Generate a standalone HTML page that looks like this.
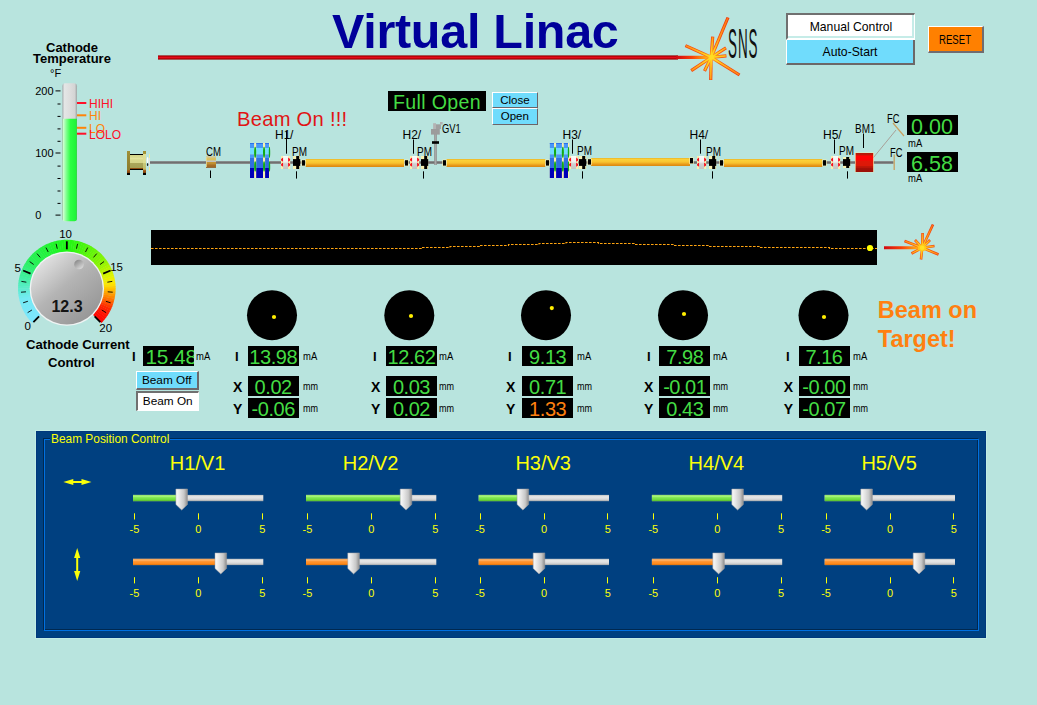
<!DOCTYPE html>
<html><head><meta charset="utf-8"><title>Virtual Linac</title>
<style>
*{box-sizing:border-box;margin:0;padding:0}
html,body{width:1037px;height:705px;overflow:hidden;background:#b8e4de;font-family:"Liberation Sans",sans-serif;color:#000}
.a{position:absolute}
.t{position:absolute;white-space:nowrap;line-height:1}
.b{font-weight:bold}
.disp{position:absolute;background:#000;color:#44dc44;overflow:hidden;white-space:nowrap;line-height:1;text-align:center;letter-spacing:-0.45px}
.btn{position:absolute;text-align:center;white-space:nowrap;font-size:13px;line-height:1}
.raised{border-style:solid;border-width:1px 2px 2px 1px;border-color:#fff #6c686c #6c686c #fff}
.sunken{border-style:solid;border-width:2px 1px 1px 2px;border-color:#707070 #fff #fff #707070}
.lbl{position:absolute;white-space:nowrap;line-height:1;font-size:12px}
svg{position:absolute;left:0;top:0;overflow:visible}
</style></head>
<body>
<div class="t b" style="left:332px;top:7px;font-size:48.5px;color:#00009a;letter-spacing:-0.28px">Virtual Linac</div>
<div class="a" style="left:158px;top:55.2px;width:520px;height:4.4px;background:linear-gradient(rgba(110,30,40,0.4),#b00000 24%,#e40a1c 50%,#b00000 76%,rgba(110,30,40,0.4))"></div>
<div class="btn" style="left:786px;top:13px;width:129px;height:27px;background:#fff;border-style:solid;border-width:2px 1px 2px 2px;border-color:#707070 #fff #fff #707070;box-shadow:inset -2px -2px 0 #c6ece8;padding-top:6.4px;font-size:12.2px">Manual Control</div>
<div class="btn" style="left:786px;top:40px;width:129px;height:24.7px;background:#70dcfc;border-style:solid;border-width:0 2px 2px 1px;border-color:#fff #6c6868 #6c6868 #fff;padding-top:5.5px;font-size:12.2px">Auto-Start</div>
<div class="btn" style="left:928px;top:26px;width:56px;height:26.8px;background:#ff8000;border-style:solid;border-width:1px 2px 2px 1px;border-color:#fff #706c70 #706c70 #fff;padding-top:6.7px;font-size:12px"><span style="display:inline-block;transform:scaleX(0.8)">RESET</span></div>
<svg width="1037" height="705"><defs><radialGradient id="g1" gradientUnits="userSpaceOnUse" cx="711.2" cy="57.3" r="43.2005"><stop offset="0" stop-color="#ffe020"/><stop offset="0.2" stop-color="#ffcc1c"/><stop offset="0.5" stop-color="#ff9c18"/><stop offset="1" stop-color="#ff7414"/></radialGradient><radialGradient id="g1o" gradientUnits="userSpaceOnUse" cx="711.2" cy="57.3" r="43.2005"><stop offset="0" stop-color="#ffb020"/><stop offset="0.25" stop-color="#f85010"/><stop offset="1" stop-color="#f03008"/></radialGradient><linearGradient id="g1b" gradientUnits="userSpaceOnUse" x1="676" y1="0" x2="711.2" y2="0"><stop offset="0" stop-color="#d00810"/><stop offset="0.45" stop-color="#f84008"/><stop offset="0.8" stop-color="#ff9c14"/><stop offset="1" stop-color="#ffd020"/></linearGradient></defs><line x1="676" y1="57.3" x2="711.2" y2="57.3" stroke="url(#g1b)" stroke-width="3.2"/><line x1="711.2" y1="57.3" x2="728" y2="17.5" stroke="url(#g1o)" stroke-width="3.2"/><line x1="711.2" y1="57.3" x2="685.4" y2="45.6" stroke="url(#g1o)" stroke-width="3.2"/><line x1="711.2" y1="57.3" x2="712.7" y2="36.6" stroke="url(#g1o)" stroke-width="3.2"/><line x1="711.2" y1="57.3" x2="726" y2="47.8" stroke="url(#g1o)" stroke-width="3.2"/><line x1="711.2" y1="57.3" x2="726.4" y2="55.8" stroke="url(#g1o)" stroke-width="3.2"/><line x1="711.2" y1="57.3" x2="739.5" y2="75" stroke="url(#g1o)" stroke-width="3.2"/><line x1="711.2" y1="57.3" x2="710.7" y2="80" stroke="url(#g1o)" stroke-width="3.2"/><line x1="711.2" y1="57.3" x2="704.5" y2="71" stroke="url(#g1o)" stroke-width="3.2"/><line x1="711.2" y1="57.3" x2="691.2" y2="70.6" stroke="url(#g1o)" stroke-width="3.2"/><line x1="711.2" y1="57.3" x2="727.767" y2="18.0528" stroke="url(#g1)" stroke-width="1.6"/><line x1="711.2" y1="57.3" x2="685.946" y2="45.8478" stroke="url(#g1)" stroke-width="1.6"/><line x1="711.2" y1="57.3" x2="712.657" y2="37.1984" stroke="url(#g1)" stroke-width="1.6"/><line x1="711.2" y1="57.3" x2="725.495" y2="48.1241" stroke="url(#g1)" stroke-width="1.6"/><line x1="711.2" y1="57.3" x2="725.803" y2="55.8589" stroke="url(#g1)" stroke-width="1.6"/><line x1="711.2" y1="57.3" x2="738.991" y2="74.6818" stroke="url(#g1)" stroke-width="1.6"/><line x1="711.2" y1="57.3" x2="710.713" y2="79.4001" stroke="url(#g1)" stroke-width="1.6"/><line x1="711.2" y1="57.3" x2="704.764" y2="70.461" stroke="url(#g1)" stroke-width="1.6"/><line x1="711.2" y1="57.3" x2="691.7" y2="70.2678" stroke="url(#g1)" stroke-width="1.6"/><circle cx="711.2" cy="57.3" r="2.56" fill="#ffdc24"/></svg>
<div class="t" style="left:728.3px;top:22px;font-size:42.6px;transform-origin:0 0;transform:scaleX(0.315);letter-spacing:3px;color:#101010">SNS</div>
<div class="t b" style="left:22px;top:41.6px;width:100px;text-align:center;font-size:13px;line-height:11px;white-space:normal">Cathode Temperature</div>
<div class="t" style="left:50px;top:68px;font-size:11px">&deg;F</div>
<svg width="1037" height="705"><defs><linearGradient id="tg" x1="0" x2="1" y1="0" y2="0"><stop offset="0" stop-color="#a8aeb0"/><stop offset="0.15" stop-color="#e4e6e6"/><stop offset="0.5" stop-color="#dedede"/><stop offset="0.85" stop-color="#d4d4d4"/><stop offset="1" stop-color="#9ca4a4"/></linearGradient><linearGradient id="tf" x1="0" x2="1" y1="0" y2="0"><stop offset="0" stop-color="#98c8a0"/><stop offset="0.07" stop-color="#ccffd0"/><stop offset="0.3" stop-color="#78ff88"/><stop offset="0.55" stop-color="#2cff44"/><stop offset="0.9" stop-color="#20f43a"/><stop offset="1" stop-color="#40cc50"/></linearGradient></defs><rect x="62.3" y="83.3" width="14.7" height="138" rx="3" fill="url(#tg)"/><path d="M62.3 118.7 H77 V218.6 a2.6 2.6 0 0 1 -2.6 2.6 H64.9 a2.6 2.6 0 0 1 -2.6 -2.6 Z" fill="url(#tf)"/><line x1="55.5" x2="60.5" y1="215.1" y2="215.1" stroke="#000" stroke-width="1"/><line x1="57.5" x2="60.5" y1="203.4" y2="203.4" stroke="#000" stroke-width="1"/><line x1="57.5" x2="60.5" y1="191.0" y2="191.0" stroke="#000" stroke-width="1"/><line x1="57.5" x2="60.5" y1="178.5" y2="178.5" stroke="#000" stroke-width="1"/><line x1="57.5" x2="60.5" y1="166.1" y2="166.1" stroke="#000" stroke-width="1"/><line x1="55.5" x2="60.5" y1="153.0" y2="153.0" stroke="#000" stroke-width="1"/><line x1="57.5" x2="60.5" y1="141.3" y2="141.3" stroke="#000" stroke-width="1"/><line x1="57.5" x2="60.5" y1="128.9" y2="128.9" stroke="#000" stroke-width="1"/><line x1="57.5" x2="60.5" y1="116.4" y2="116.4" stroke="#000" stroke-width="1"/><line x1="57.5" x2="60.5" y1="104.0" y2="104.0" stroke="#000" stroke-width="1"/><line x1="55.5" x2="60.5" y1="90.9" y2="90.9" stroke="#000" stroke-width="1"/><line x1="77" x2="86.3" y1="103" y2="103" stroke="#ff1028" stroke-width="2"/><line x1="77" x2="86.3" y1="115.3" y2="115.3" stroke="#ff8408" stroke-width="2"/><line x1="77" x2="86.3" y1="127.8" y2="127.8" stroke="#ff8408" stroke-width="2"/><line x1="77" x2="86.3" y1="133.7" y2="133.7" stroke="#ff1028" stroke-width="2"/></svg>
<div class="t" style="left:35.2px;top:85.6px;font-size:11px">200</div>
<div class="t" style="left:35.2px;top:148.0px;font-size:11px">100</div>
<div class="t" style="left:35.2px;top:209.8px;font-size:11px">0</div>
<div class="t" style="left:89px;top:98.2px;font-size:12px;color:#ff1028">HIHI</div>
<div class="t" style="left:89px;top:110.2px;font-size:12px;color:#ff8408">HI</div>
<div class="t" style="left:89px;top:122.7px;font-size:12px;color:#ff8408">LO</div>
<div class="t" style="left:89px;top:128.7px;font-size:12px;color:#ff1028">LOLO</div>
<svg width="1037" height="705"><defs><linearGradient id="kg" x1="0.15" y1="0.1" x2="0.85" y2="0.9"><stop offset="0" stop-color="#e2e2e2"/><stop offset="0.45" stop-color="#b4b4b4"/><stop offset="1" stop-color="#969696"/></linearGradient><linearGradient id="kd" x1="0.2" y1="0.1" x2="0.8" y2="0.9"><stop offset="0" stop-color="#8c8c8c"/><stop offset="1" stop-color="#d8d8d8"/></linearGradient></defs><polygon points="32.34,323.11 30.33,320.97 39.53,312.81 41.04,314.41" fill="rgb(124,230,254)"/><polygon points="30.58,321.25 28.69,319.01 38.30,311.35 39.73,313.02" fill="rgb(123,231,253)"/><polygon points="28.93,319.31 27.15,316.97 37.15,309.82 38.48,311.57" fill="rgb(122,231,252)"/><polygon points="27.37,317.28 25.72,314.86 36.08,308.24 37.32,310.05" fill="rgb(121,231,251)"/><polygon points="25.92,315.18 24.40,312.67 35.10,306.60 36.24,308.48" fill="rgb(121,232,250)"/><polygon points="24.59,313.00 23.20,310.41 34.20,304.91 35.24,306.85" fill="rgb(120,232,249)"/><polygon points="23.37,310.75 22.11,308.10 33.39,303.18 34.33,305.17" fill="rgb(119,232,248)"/><polygon points="22.27,308.45 21.16,305.73 32.67,301.41 33.51,303.45" fill="rgb(118,233,247)"/><polygon points="21.29,306.09 20.32,303.32 32.05,299.61 32.77,301.68" fill="rgb(118,233,246)"/><polygon points="20.44,303.68 19.62,300.86 31.52,297.77 32.14,299.88" fill="rgb(117,234,245)"/><polygon points="19.71,301.23 19.04,298.37 31.09,295.91 31.59,298.05" fill="rgb(116,234,244)"/><polygon points="19.12,298.75 18.59,295.86 30.76,294.03 31.15,296.19" fill="rgb(112,234,237)"/><polygon points="18.65,296.23 18.28,293.32 30.52,292.13 30.80,294.31" fill="rgb(106,235,228)"/><polygon points="18.32,293.70 18.10,290.77 30.39,290.22 30.55,292.42" fill="rgb(100,236,219)"/><polygon points="18.12,291.15 18.05,288.22 30.35,288.31 30.40,290.51" fill="rgb(95,236,209)"/><polygon points="18.05,288.60 18.14,285.66 30.42,286.40 30.35,288.60" fill="rgb(89,237,200)"/><polygon points="18.12,286.05 18.36,283.12 30.58,284.50 30.40,286.69" fill="rgb(83,238,191)"/><polygon points="18.32,283.50 18.71,280.59 30.85,282.61 30.55,284.78" fill="rgb(77,238,181)"/><polygon points="18.65,280.97 19.20,278.08 31.21,280.73 30.80,282.89" fill="rgb(72,239,172)"/><polygon points="19.12,278.45 19.81,275.60 31.67,278.88 31.15,281.01" fill="rgb(66,240,163)"/><polygon points="19.71,275.97 20.56,273.16 32.23,277.05 31.59,279.15" fill="rgb(62,240,153)"/><polygon points="20.44,273.52 21.43,270.75 32.88,275.25 32.14,277.32" fill="rgb(58,240,143)"/><polygon points="21.29,271.11 22.43,268.40 33.62,273.49 32.77,275.52" fill="rgb(55,240,134)"/><polygon points="22.27,268.75 23.54,266.10 34.46,271.77 33.51,273.75" fill="rgb(52,240,124)"/><polygon points="23.37,266.45 24.78,263.87 35.38,270.10 34.33,272.03" fill="rgb(48,240,114)"/><polygon points="24.59,264.20 26.13,261.70 36.40,268.48 35.24,270.35" fill="rgb(45,240,105)"/><polygon points="25.92,262.02 27.60,259.61 37.49,266.91 36.24,268.72" fill="rgb(42,240,95)"/><polygon points="27.37,259.92 29.17,257.59 38.67,265.41 37.32,267.15" fill="rgb(40,240,88)"/><polygon points="28.93,257.89 30.84,255.66 39.92,263.96 38.48,265.63" fill="rgb(39,240,84)"/><polygon points="30.58,255.95 32.62,253.82 41.24,262.59 39.73,264.18" fill="rgb(39,241,80)"/><polygon points="32.34,254.09 34.48,252.08 42.64,261.28 41.04,262.79" fill="rgb(38,241,76)"/><polygon points="34.20,252.33 36.44,250.44 44.10,260.05 42.43,261.48" fill="rgb(38,242,72)"/><polygon points="36.14,250.68 38.48,248.90 45.63,258.90 43.88,260.23" fill="rgb(37,242,69)"/><polygon points="38.17,249.12 40.59,247.47 47.21,257.83 45.40,259.07" fill="rgb(36,242,65)"/><polygon points="40.27,247.67 42.78,246.15 48.85,256.85 46.97,257.99" fill="rgb(36,242,61)"/><polygon points="42.45,246.34 45.04,244.95 50.54,255.95 48.60,256.99" fill="rgb(35,243,57)"/><polygon points="44.70,245.12 47.35,243.86 52.27,255.14 50.28,256.08" fill="rgb(35,243,53)"/><polygon points="47.00,244.02 49.72,242.91 54.04,254.42 52.00,255.26" fill="rgb(34,244,49)"/><polygon points="49.36,243.04 52.13,242.07 55.84,253.80 53.77,254.52" fill="rgb(34,244,45)"/><polygon points="51.77,242.19 54.59,241.37 57.68,253.27 55.57,253.89" fill="rgb(33,244,41)"/><polygon points="54.22,241.46 57.08,240.79 59.54,252.84 57.40,253.34" fill="rgb(32,244,37)"/><polygon points="56.70,240.87 59.59,240.34 61.42,252.51 59.26,252.90" fill="rgb(32,245,34)"/><polygon points="59.22,240.40 62.13,240.03 63.32,252.27 61.14,252.55" fill="rgb(31,245,30)"/><polygon points="61.75,240.07 64.68,239.85 65.23,252.14 63.03,252.30" fill="rgb(31,246,26)"/><polygon points="64.30,239.87 67.23,239.80 67.14,252.10 64.94,252.15" fill="rgb(30,246,22)"/><polygon points="66.85,239.80 69.79,239.89 69.05,252.17 66.85,252.10" fill="rgb(33,246,20)"/><polygon points="69.40,239.87 72.33,240.11 70.95,252.33 68.76,252.15" fill="rgb(39,246,19)"/><polygon points="71.95,240.07 74.86,240.46 72.84,252.60 70.67,252.30" fill="rgb(45,246,18)"/><polygon points="74.48,240.40 77.37,240.95 74.72,252.96 72.56,252.55" fill="rgb(51,246,17)"/><polygon points="77.00,240.87 79.85,241.56 76.57,253.42 74.44,252.90" fill="rgb(58,246,16)"/><polygon points="79.48,241.46 82.29,242.31 78.40,253.98 76.30,253.34" fill="rgb(64,245,15)"/><polygon points="81.93,242.19 84.70,243.18 80.20,254.63 78.13,253.89" fill="rgb(70,245,14)"/><polygon points="84.34,243.04 87.05,244.18 81.96,255.37 79.93,254.52" fill="rgb(76,245,13)"/><polygon points="86.70,244.02 89.35,245.29 83.68,256.21 81.70,255.26" fill="rgb(82,245,12)"/><polygon points="89.00,245.12 91.58,246.53 85.35,257.13 83.42,256.08" fill="rgb(88,245,12)"/><polygon points="91.25,246.34 93.75,247.88 86.97,258.15 85.10,256.99" fill="rgb(94,245,11)"/><polygon points="93.43,247.67 95.84,249.35 88.54,259.24 86.73,257.99" fill="rgb(100,245,10)"/><polygon points="95.53,249.12 97.86,250.92 90.04,260.42 88.30,259.07" fill="rgb(106,245,9)"/><polygon points="97.56,250.68 99.79,252.59 91.49,261.67 89.82,260.23" fill="rgb(113,244,8)"/><polygon points="99.50,252.33 101.63,254.37 92.86,262.99 91.27,261.48" fill="rgb(119,244,7)"/><polygon points="101.36,254.09 103.37,256.23 94.17,264.39 92.66,262.79" fill="rgb(125,244,6)"/><polygon points="103.12,255.95 105.01,258.19 95.40,265.85 93.97,264.18" fill="rgb(131,244,5)"/><polygon points="104.77,257.89 106.55,260.23 96.55,267.38 95.22,265.63" fill="rgb(137,244,4)"/><polygon points="106.33,259.92 107.98,262.34 97.62,268.96 96.38,267.15" fill="rgb(146,244,4)"/><polygon points="107.78,262.02 109.30,264.53 98.60,270.60 97.46,268.72" fill="rgb(159,244,3)"/><polygon points="109.11,264.20 110.50,266.79 99.50,272.29 98.46,270.35" fill="rgb(172,244,2)"/><polygon points="110.33,266.45 111.59,269.10 100.31,274.02 99.37,272.03" fill="rgb(184,244,2)"/><polygon points="111.43,268.75 112.54,271.47 101.03,275.79 100.19,273.75" fill="rgb(197,244,1)"/><polygon points="112.41,271.11 113.38,273.88 101.65,277.59 100.93,275.52" fill="rgb(210,244,1)"/><polygon points="113.26,273.52 114.08,276.34 102.18,279.43 101.56,277.32" fill="rgb(222,243,0)"/><polygon points="113.99,275.97 114.66,278.83 102.61,281.29 102.11,279.15" fill="rgb(232,240,0)"/><polygon points="114.58,278.45 115.11,281.34 102.94,283.17 102.55,281.01" fill="rgb(241,237,0)"/><polygon points="115.05,280.97 115.42,283.88 103.18,285.07 102.90,282.89" fill="rgb(251,233,0)"/><polygon points="115.38,283.50 115.60,286.43 103.31,286.98 103.15,284.78" fill="rgb(255,222,0)"/><polygon points="115.58,286.05 115.65,288.98 103.35,288.89 103.30,286.69" fill="rgb(255,205,0)"/><polygon points="115.65,288.60 115.56,291.54 103.28,290.80 103.35,288.60" fill="rgb(255,188,0)"/><polygon points="115.58,291.15 115.34,294.08 103.12,292.70 103.30,290.51" fill="rgb(255,171,0)"/><polygon points="115.38,293.70 114.99,296.61 102.85,294.59 103.15,292.42" fill="rgb(255,154,0)"/><polygon points="115.05,296.23 114.50,299.12 102.49,296.47 102.90,294.31" fill="rgb(255,136,0)"/><polygon points="114.58,298.75 113.89,301.60 102.03,298.32 102.55,296.19" fill="rgb(255,117,0)"/><polygon points="113.99,301.23 113.14,304.04 101.47,300.15 102.11,298.05" fill="rgb(255,98,0)"/><polygon points="113.26,303.68 112.27,306.45 100.82,301.95 101.56,299.88" fill="rgb(255,78,0)"/><polygon points="112.41,306.09 111.27,308.80 100.08,303.71 100.93,301.68" fill="rgb(255,59,0)"/><polygon points="111.43,308.45 110.16,311.10 99.24,305.43 100.19,303.45" fill="rgb(255,40,0)"/><polygon points="110.33,310.75 108.92,313.33 98.32,307.10 99.37,305.17" fill="rgb(255,31,0)"/><polygon points="109.11,313.00 107.57,315.50 97.30,308.72 98.46,306.85" fill="rgb(255,26,0)"/><polygon points="107.78,315.18 106.10,317.59 96.21,310.29 97.46,308.48" fill="rgb(255,20,0)"/><polygon points="106.33,317.28 104.53,319.61 95.03,311.79 96.38,310.05" fill="rgb(255,14,0)"/><polygon points="104.77,319.31 102.86,321.54 93.78,313.24 95.22,311.57" fill="rgb(255,9,0)"/><polygon points="103.12,321.25 101.36,323.11 92.66,314.41 93.97,313.02" fill="rgb(255,3,0)"/><line x1="39.06" y1="316.39" x2="33.40" y2="322.05" stroke="#000" stroke-width="1.8"/><line x1="31.89" y1="310.02" x2="27.63" y2="312.63" stroke="#000" stroke-width="0.9"/><line x1="27.86" y1="301.27" x2="23.10" y2="302.81" stroke="#000" stroke-width="0.9"/><line x1="25.98" y1="291.82" x2="20.99" y2="292.21" stroke="#000" stroke-width="0.9"/><line x1="26.35" y1="282.19" x2="21.42" y2="281.40" stroke="#000" stroke-width="0.9"/><line x1="30.54" y1="273.56" x2="23.15" y2="270.50" stroke="#000" stroke-width="1.8"/><line x1="33.68" y1="264.50" x2="29.64" y2="261.56" stroke="#000" stroke-width="0.9"/><line x1="40.22" y1="257.42" x2="36.98" y2="253.62" stroke="#000" stroke-width="0.9"/><line x1="48.24" y1="252.07" x2="45.97" y2="247.61" stroke="#000" stroke-width="0.9"/><line x1="57.28" y1="248.73" x2="56.11" y2="243.87" stroke="#000" stroke-width="0.9"/><line x1="66.85" y1="249.30" x2="66.85" y2="241.30" stroke="#000" stroke-width="1.8"/><line x1="76.42" y1="248.73" x2="77.59" y2="243.87" stroke="#000" stroke-width="0.9"/><line x1="85.46" y1="252.07" x2="87.73" y2="247.61" stroke="#000" stroke-width="0.9"/><line x1="93.48" y1="257.42" x2="96.72" y2="253.62" stroke="#000" stroke-width="0.9"/><line x1="100.02" y1="264.50" x2="104.06" y2="261.56" stroke="#000" stroke-width="0.9"/><line x1="103.16" y1="273.56" x2="110.55" y2="270.50" stroke="#000" stroke-width="1.8"/><line x1="107.35" y1="282.19" x2="112.28" y2="281.40" stroke="#000" stroke-width="0.9"/><line x1="107.72" y1="291.82" x2="112.71" y2="292.21" stroke="#000" stroke-width="0.9"/><line x1="105.84" y1="301.27" x2="110.60" y2="302.81" stroke="#000" stroke-width="0.9"/><line x1="101.81" y1="310.02" x2="106.07" y2="312.63" stroke="#000" stroke-width="0.9"/><line x1="94.64" y1="316.39" x2="100.30" y2="322.05" stroke="#000" stroke-width="1.8"/><circle cx="66.85" cy="288.6" r="37.2" fill="#f0f4f4"/><circle cx="66.85" cy="288.6" r="35.9" fill="url(#kg)"/><circle cx="79" cy="264.5" r="4.8" fill="url(#kd)"/></svg>
<div class="t b" style="left:37px;width:60px;text-align:center;top:298.5px;font-size:16px;color:#141414">12.3</div>
<div class="t" style="left:50.6px;width:30px;text-align:center;top:228.5px;font-size:11.5px">10</div>
<div class="t" style="left:2.7px;width:30px;text-align:center;top:262.5px;font-size:11.5px">5</div>
<div class="t" style="left:101.6px;width:30px;text-align:center;top:261.9px;font-size:11.5px">15</div>
<div class="t" style="left:12.7px;width:30px;text-align:center;top:321.3px;font-size:11.5px">0</div>
<div class="t" style="left:90.7px;width:30px;text-align:center;top:322.9px;font-size:11.5px">20</div>
<div class="t b" style="left:26px;top:338px;font-size:13.15px">Cathode Current</div>
<div class="t b" style="left:48px;top:356px;font-size:13.1px">Control</div>
<svg width="1037" height="705"><defs><linearGradient id="pg" x1="0" x2="0" y1="0" y2="1"><stop offset="0" stop-color="#e8b428"/><stop offset="0.18" stop-color="#fcd038"/><stop offset="0.5" stop-color="#f8c430"/><stop offset="0.8" stop-color="#e89818"/><stop offset="1" stop-color="#d88810"/></linearGradient><linearGradient id="lg" x1="0" x2="0" y1="0" y2="1"><stop offset="0" stop-color="#a0a8a8"/><stop offset="0.35" stop-color="#6c6c6c"/><stop offset="0.7" stop-color="#747474"/><stop offset="1" stop-color="#9ca4a4"/></linearGradient><linearGradient id="cg" x1="0" x2="0" y1="0" y2="1"><stop offset="0" stop-color="#fafafa"/><stop offset="0.45" stop-color="#f0f0f0"/><stop offset="0.6" stop-color="#d0d0d0"/><stop offset="1" stop-color="#c4c4c4"/></linearGradient><linearGradient id="gung" x1="0" x2="0" y1="0" y2="1"><stop offset="0" stop-color="#000"/><stop offset="0.07" stop-color="#000"/><stop offset="0.08" stop-color="#d4d488"/><stop offset="0.22" stop-color="#dcdc94"/><stop offset="0.3" stop-color="#e6e6a0"/><stop offset="0.36" stop-color="#d8d88c"/><stop offset="0.55" stop-color="#d4d488"/><stop offset="0.57" stop-color="#aaa65a"/><stop offset="0.86" stop-color="#a4a054"/><stop offset="0.88" stop-color="#a05818"/><stop offset="0.93" stop-color="#804008"/><stop offset="0.94" stop-color="#000"/><stop offset="1" stop-color="#000"/></linearGradient><linearGradient id="gfl" x1="0" x2="0" y1="0" y2="1"><stop offset="0" stop-color="#a09038"/><stop offset="0.78" stop-color="#8c7c2c"/><stop offset="0.8" stop-color="#a86020"/><stop offset="0.9" stop-color="#804008"/><stop offset="0.92" stop-color="#000"/><stop offset="1" stop-color="#000"/></linearGradient><linearGradient id="gfr" x1="0" x2="0" y1="0" y2="1"><stop offset="0" stop-color="#a08c30"/><stop offset="0.11" stop-color="#a89838"/><stop offset="0.13" stop-color="#e0e098"/><stop offset="0.5" stop-color="#dcdc90"/><stop offset="0.52" stop-color="#c8c878"/><stop offset="0.76" stop-color="#c0bc68"/><stop offset="0.8" stop-color="#a86020"/><stop offset="0.9" stop-color="#804008"/><stop offset="0.92" stop-color="#000"/><stop offset="1" stop-color="#000"/></linearGradient><linearGradient id="cmg" x1="0" x2="0" y1="0" y2="1"><stop offset="0" stop-color="#d4c898"/><stop offset="0.14" stop-color="#d4c488"/><stop offset="0.16" stop-color="#dcc464"/><stop offset="0.36" stop-color="#d8be5c"/><stop offset="0.38" stop-color="#c6c6c2"/><stop offset="0.5" stop-color="#c0c0bc"/><stop offset="0.52" stop-color="#c49434"/><stop offset="0.7" stop-color="#bc8c30"/><stop offset="0.73" stop-color="#a87028"/><stop offset="0.92" stop-color="#a06824"/><stop offset="0.94" stop-color="#885018"/><stop offset="1" stop-color="#885018"/></linearGradient><linearGradient id="bmg" x1="0" x2="0" y1="0" y2="1"><stop offset="0" stop-color="#b41808"/><stop offset="0.12" stop-color="#c01808"/><stop offset="0.14" stop-color="#ff0404"/><stop offset="0.38" stop-color="#fc0404"/><stop offset="0.41" stop-color="#e01808"/><stop offset="0.67" stop-color="#dc1808"/><stop offset="0.7" stop-color="#c01808"/><stop offset="0.79" stop-color="#b81408"/><stop offset="0.82" stop-color="#a01008"/><stop offset="1" stop-color="#9c1008"/></linearGradient></defs><rect x="150" y="161" width="156" height="3" fill="url(#lg)"/><rect x="404" y="161" width="42" height="3" fill="url(#lg)"/><rect x="545" y="161" width="47" height="3" fill="url(#lg)"/><rect x="690" y="161" width="34" height="3" fill="url(#lg)"/><rect x="822" y="161" width="34" height="3" fill="url(#lg)"/><rect x="873" y="161" width="20.5" height="3" fill="url(#lg)"/><rect x="149" y="154" width="1" height="17" fill="#f0ec98"/><rect x="149" y="158" width="1" height="9" fill="#e4e4e0"/><ellipse cx="147.6" cy="160.3" rx="0.9" ry="3.4" fill="#fcfcfc"/><ellipse cx="147.6" cy="164.6" rx="0.7" ry="1.5" fill="#202020"/><rect x="130" y="154" width="13" height="16" fill="url(#gung)"/><rect x="127" y="151" width="3" height="24" fill="url(#gfl)"/><rect x="143" y="151" width="3" height="24" fill="url(#gfr)"/><rect x="206" y="156.2" width="10" height="11.6" fill="url(#cmg)"/><rect x="206" y="157" width="0.8" height="10" fill="#e8d890"/><line x1="210.5" x2="210.5" y1="170.5" y2="178" stroke="#000" stroke-width="1"/><rect x="250" y="143" width="19.7" height="35" fill="#f8f0b0"/><rect x="250" y="143" width="4.1" height="5" fill="#4898f8"/><rect x="250" y="148" width="4.1" height="6.3" fill="#70dcff"/><rect x="250" y="154.3" width="4.1" height="3.7" fill="#4898f8"/><rect x="250" y="158" width="4.1" height="10" fill="#3070e0"/><rect x="250" y="168" width="4.1" height="10" fill="#0000b8"/><rect x="256.2" y="143" width="6.8" height="5" fill="#4898f8"/><rect x="256.2" y="148" width="6.8" height="6.3" fill="#70dcff"/><rect x="256.2" y="154.3" width="6.8" height="3.7" fill="#4898f8"/><rect x="256.2" y="158" width="6.8" height="10" fill="#3070e0"/><rect x="256.2" y="168" width="6.8" height="10" fill="#0000b8"/><rect x="265.1" y="143" width="3.9" height="5" fill="#4898f8"/><rect x="265.1" y="148" width="3.9" height="6.3" fill="#70dcff"/><rect x="265.1" y="154.3" width="3.9" height="3.7" fill="#4898f8"/><rect x="265.1" y="158" width="3.9" height="10" fill="#3070e0"/><rect x="265.1" y="168" width="3.9" height="10" fill="#0000b8"/><rect x="250" y="143" width="4.1" height="0.9" fill="#2c6ce8"/><rect x="256.2" y="143" width="6.8" height="0.9" fill="#2c6ce8"/><rect x="265.1" y="143" width="3.9" height="0.9" fill="#2c6ce8"/><ellipse cx="255.15" cy="152.3" rx="1.05" ry="5.6" fill="#10a818"/><ellipse cx="255.15" cy="166.5" rx="1.05" ry="5.2" fill="#10a818"/><ellipse cx="264.05" cy="152.3" rx="1.05" ry="5.6" fill="#10a818"/><ellipse cx="264.05" cy="166.5" rx="1.05" ry="5.2" fill="#10a818"/><ellipse cx="269.5" cy="152.3" rx="0.7" ry="5.6" fill="#10a818"/><ellipse cx="269.5" cy="166.5" rx="0.7" ry="5.2" fill="#10a818"/><rect x="549.8" y="143" width="19.4" height="35" fill="#f8f0b0"/><rect x="549.8" y="143" width="4.2" height="5" fill="#4898f8"/><rect x="549.8" y="148" width="4.2" height="6.3" fill="#70dcff"/><rect x="549.8" y="154.3" width="4.2" height="3.7" fill="#4898f8"/><rect x="549.8" y="158" width="4.2" height="10" fill="#3070e0"/><rect x="549.8" y="168" width="4.2" height="10" fill="#0000b8"/><rect x="556.1" y="143" width="5.8" height="5" fill="#4898f8"/><rect x="556.1" y="148" width="5.8" height="6.3" fill="#70dcff"/><rect x="556.1" y="154.3" width="5.8" height="3.7" fill="#4898f8"/><rect x="556.1" y="158" width="5.8" height="10" fill="#3070e0"/><rect x="556.1" y="168" width="5.8" height="10" fill="#0000b8"/><rect x="563.8" y="143" width="4.2" height="5" fill="#4898f8"/><rect x="563.8" y="148" width="4.2" height="6.3" fill="#70dcff"/><rect x="563.8" y="154.3" width="4.2" height="3.7" fill="#4898f8"/><rect x="563.8" y="158" width="4.2" height="10" fill="#3070e0"/><rect x="563.8" y="168" width="4.2" height="10" fill="#0000b8"/><rect x="549.8" y="143" width="4.2" height="0.9" fill="#2c6ce8"/><rect x="556.1" y="143" width="5.8" height="0.9" fill="#2c6ce8"/><rect x="563.8" y="143" width="4.2" height="0.9" fill="#2c6ce8"/><ellipse cx="555.05" cy="152.3" rx="1.05" ry="5.6" fill="#10a818"/><ellipse cx="555.05" cy="166.5" rx="1.05" ry="5.2" fill="#10a818"/><ellipse cx="562.85" cy="152.3" rx="1.05" ry="5.6" fill="#10a818"/><ellipse cx="562.85" cy="166.5" rx="1.05" ry="5.2" fill="#10a818"/><ellipse cx="568.5" cy="152.3" rx="0.7" ry="5.6" fill="#10a818"/><ellipse cx="568.5" cy="166.5" rx="0.7" ry="5.2" fill="#10a818"/><rect x="305.7" y="159" width="98.3" height="8" fill="url(#pg)"/><rect x="446.5" y="159" width="98.8" height="8" fill="url(#pg)"/><rect x="591" y="158" width="99" height="8" fill="url(#pg)"/><rect x="724" y="159" width="98.3" height="8" fill="url(#pg)"/><rect x="301.4" y="159.6" width="4.2" height="6.6" fill="#f8f0b0"/><rect x="302" y="160.2" width="3" height="5.4" fill="#000"/><rect x="404.4" y="159.6" width="4.2" height="6.6" fill="#f8f0b0"/><rect x="405" y="160.2" width="3" height="5.4" fill="#000"/><rect x="442.4" y="159.6" width="4.2" height="6.6" fill="#f8f0b0"/><rect x="443" y="160.2" width="3" height="5.4" fill="#000"/><rect x="545.4" y="159.6" width="4.2" height="6.6" fill="#f8f0b0"/><rect x="546" y="160.2" width="3" height="5.4" fill="#000"/><rect x="587.4" y="158.6" width="4.2" height="6.6" fill="#f8f0b0"/><rect x="588" y="159.2" width="3" height="5.4" fill="#000"/><rect x="689.4" y="157.4" width="4.2" height="6.6" fill="#f8f0b0"/><rect x="690" y="158" width="3" height="5.4" fill="#000"/><rect x="719.4" y="159.6" width="4.2" height="6.6" fill="#f8f0b0"/><rect x="720" y="160.2" width="3" height="5.4" fill="#000"/><rect x="822.4" y="159.6" width="4.2" height="6.6" fill="#f8f0b0"/><rect x="823" y="160.2" width="3" height="5.4" fill="#000"/><rect x="281" y="156" width="9.2" height="13" fill="#f8f0b0"/><polygon points="281.1,159 281.1,160.4 283.6,162.1 283.6,157.3" fill="#f80c1c"/><polygon points="290.1,159 290.1,160.4 287.6,162.1 287.6,157.3" fill="#f80c1c"/><polygon points="281.1,164 281.1,165.4 283.6,167.1 283.6,162.3" fill="#f80c1c"/><polygon points="290.1,164 290.1,165.4 287.6,167.1 287.6,162.3" fill="#f80c1c"/><rect x="283.1" y="156" width="5" height="13" fill="url(#cg)"/><rect x="293" y="156" width="7.2" height="13" fill="#f8f0b0"/><rect x="293" y="159.1" width="7.2" height="6.8" fill="#000"/><rect x="296.2" y="156" width="3" height="13" fill="#000"/><line x1="286.5" x2="286.5" y1="131" y2="153.7" stroke="#000" stroke-width="1"/><line x1="296.5" x2="296.5" y1="171.3" y2="178.6" stroke="#000" stroke-width="1"/><rect x="410" y="156" width="9.2" height="13" fill="#f8f0b0"/><polygon points="410.1,159 410.1,160.4 412.6,162.1 412.6,157.3" fill="#f80c1c"/><polygon points="419.1,159 419.1,160.4 416.6,162.1 416.6,157.3" fill="#f80c1c"/><polygon points="410.1,164 410.1,165.4 412.6,167.1 412.6,162.3" fill="#f80c1c"/><polygon points="419.1,164 419.1,165.4 416.6,167.1 416.6,162.3" fill="#f80c1c"/><rect x="412.1" y="156" width="5" height="13" fill="url(#cg)"/><rect x="421" y="156" width="7.2" height="13" fill="#f8f0b0"/><rect x="421" y="159.1" width="7.2" height="6.8" fill="#000"/><rect x="424.2" y="156" width="3" height="13" fill="#000"/><line x1="413.5" x2="413.5" y1="139.5" y2="153.7" stroke="#000" stroke-width="1"/><line x1="423.5" x2="423.5" y1="171.3" y2="178.6" stroke="#000" stroke-width="1"/><rect x="569" y="156" width="9.2" height="13" fill="#f8f0b0"/><polygon points="569.1,159 569.1,160.4 571.6,162.1 571.6,157.3" fill="#f80c1c"/><polygon points="578.1,159 578.1,160.4 575.6,162.1 575.6,157.3" fill="#f80c1c"/><polygon points="569.1,164 569.1,165.4 571.6,167.1 571.6,162.3" fill="#f80c1c"/><polygon points="578.1,164 578.1,165.4 575.6,167.1 575.6,162.3" fill="#f80c1c"/><rect x="571.1" y="156" width="5" height="13" fill="url(#cg)"/><rect x="579" y="156" width="7.2" height="13" fill="#f8f0b0"/><rect x="579" y="159.1" width="7.2" height="6.8" fill="#000"/><rect x="582.2" y="156" width="3" height="13" fill="#000"/><line x1="572.5" x2="572.5" y1="139.5" y2="153.7" stroke="#000" stroke-width="1"/><line x1="582.5" x2="582.5" y1="171.3" y2="178.6" stroke="#000" stroke-width="1"/><rect x="697" y="156" width="9.2" height="13" fill="#f8f0b0"/><polygon points="697.1,159 697.1,160.4 699.6,162.1 699.6,157.3" fill="#f80c1c"/><polygon points="706.1,159 706.1,160.4 703.6,162.1 703.6,157.3" fill="#f80c1c"/><polygon points="697.1,164 697.1,165.4 699.6,167.1 699.6,162.3" fill="#f80c1c"/><polygon points="706.1,164 706.1,165.4 703.6,167.1 703.6,162.3" fill="#f80c1c"/><rect x="699.1" y="156" width="5" height="13" fill="url(#cg)"/><rect x="709" y="156" width="7.2" height="13" fill="#f8f0b0"/><rect x="709" y="159.1" width="7.2" height="6.8" fill="#000"/><rect x="712.2" y="156" width="3" height="13" fill="#000"/><line x1="700.5" x2="700.5" y1="139.5" y2="153.7" stroke="#000" stroke-width="1"/><line x1="712.5" x2="712.5" y1="171.3" y2="178.6" stroke="#000" stroke-width="1"/><rect x="831" y="156" width="9.2" height="13" fill="#f8f0b0"/><polygon points="831.1,159 831.1,160.4 833.6,162.1 833.6,157.3" fill="#f80c1c"/><polygon points="840.1,159 840.1,160.4 837.6,162.1 837.6,157.3" fill="#f80c1c"/><polygon points="831.1,164 831.1,165.4 833.6,167.1 833.6,162.3" fill="#f80c1c"/><polygon points="840.1,164 840.1,165.4 837.6,167.1 837.6,162.3" fill="#f80c1c"/><rect x="833.1" y="156" width="5" height="13" fill="url(#cg)"/><rect x="843" y="157" width="7.2" height="11" fill="#f8f0b0"/><rect x="843" y="159.1" width="7.2" height="6.8" fill="#000"/><rect x="846.2" y="157" width="3" height="11" fill="#000"/><line x1="834.5" x2="834.5" y1="139.5" y2="153.7" stroke="#000" stroke-width="1"/><line x1="847.5" x2="847.5" y1="171.3" y2="178.6" stroke="#000" stroke-width="1"/><rect x="434.2" y="133" width="2.6" height="32" fill="#909090"/><rect x="434.9" y="133" width="1.2" height="32" fill="#a8a8a8"/><rect x="432" y="141.2" width="7" height="2.6" fill="#000"/><rect x="431" y="129" width="8.8" height="5.6" fill="#9c9c9c"/><rect x="433.1" y="123.2" width="2.9" height="5.8" fill="#b4b4b4"/><rect x="436" y="124.3" width="4.9" height="4.7" fill="#a0a0a0"/><rect x="440" y="122" width="2.7" height="2.5" fill="#b0b0b0"/><rect x="855" y="152.6" width="18.8" height="19.6" fill="#f8f0b0"/><rect x="855.6" y="153" width="17.6" height="19" fill="url(#bmg)"/><line x1="863.5" x2="863.5" y1="133.5" y2="148" stroke="#000" stroke-width="1"/><line x1="873.5" y1="157.5" x2="896" y2="130" stroke="#a8a098" stroke-width="1"/><line x1="893" y1="123" x2="904" y2="136" stroke="#c8a060" stroke-width="1.2"/><line x1="894.2" y1="154.5" x2="894.2" y2="170" stroke="#c8a060" stroke-width="1.3"/></svg>
<div class="lbl" style="left:205.5px;top:146.3px;font-size:12px;transform-origin:0 0;transform:scaleX(0.8)">CM</div>
<div class="lbl" style="left:290px;top:128.5px;font-size:12px;transform-origin:0 0;transform:scaleX(1)">/</div>
<div class="lbl" style="left:275px;top:128.5px;font-size:12px;transform-origin:0 0;transform:scaleX(1)">H1</div>
<div class="lbl" style="left:402.5px;top:128.5px;font-size:12px;transform-origin:0 0;transform:scaleX(1)">H2/</div>
<div class="lbl" style="left:562.5px;top:128.5px;font-size:12px;transform-origin:0 0;transform:scaleX(1)">H3/</div>
<div class="lbl" style="left:689.5px;top:128.5px;font-size:12px;transform-origin:0 0;transform:scaleX(1)">H4/</div>
<div class="lbl" style="left:823px;top:128.5px;font-size:12px;transform-origin:0 0;transform:scaleX(1)">H5/</div>
<div class="lbl" style="left:291.5px;top:145.6px;font-size:12px;transform-origin:0 0;transform:scaleX(0.83)">PM</div>
<div class="lbl" style="left:416.5px;top:145.7px;font-size:12px;transform-origin:0 0;transform:scaleX(0.83)">PM</div>
<div class="lbl" style="left:577px;top:144.5px;font-size:12px;transform-origin:0 0;transform:scaleX(0.83)">PM</div>
<div class="lbl" style="left:706px;top:146.1px;font-size:12px;transform-origin:0 0;transform:scaleX(0.83)">PM</div>
<div class="lbl" style="left:838.5px;top:145.3px;font-size:12px;transform-origin:0 0;transform:scaleX(0.83)">PM</div>
<div class="lbl" style="left:442px;top:122.7px;font-size:12px;transform-origin:0 0;transform:scaleX(0.78)">GV1</div>
<div class="lbl" style="left:854.5px;top:122.5px;font-size:12px;transform-origin:0 0;transform:scaleX(0.83)">BM1</div>
<div class="lbl" style="left:887px;top:112.5px;font-size:12px;transform-origin:0 0;transform:scaleX(0.78)">FC</div>
<div class="lbl" style="left:890px;top:146.5px;font-size:12px;transform-origin:0 0;transform:scaleX(0.78)">FC</div>
<div class="t" style="left:237px;top:109px;font-size:20.2px;letter-spacing:0.25px;color:#e01414">Beam On !!!</div>
<div class="disp" style="left:388px;top:91px;width:98px;height:20.2px;font-size:19.6px;padding-top:1.7px;letter-spacing:0.35px">Full Open</div>
<div class="btn" style="left:492px;top:92px;width:45.7px;height:16px;background:#70dcfc;border-style:solid;border-width:1px;border-color:#fff #6c6468 #6c6468 #fff;font-size:11.5px;padding-top:2.2px">Close</div>
<div class="btn" style="left:492px;top:108px;width:45.7px;height:16.6px;background:#70dcfc;border-style:solid;border-width:1px;border-color:#fff #6c6468 #6c6468 #fff;font-size:11.5px;padding-top:2.4px">Open</div>
<div class="disp" style="left:907px;top:115px;width:51px;height:20px;font-size:21.5px;padding-top:1.7px;letter-spacing:0;text-indent:-1px">0.00</div>
<div class="disp" style="left:907px;top:152px;width:51px;height:20px;font-size:21.5px;padding-top:1.6px;letter-spacing:0;text-indent:-1px">6.58</div>
<div class="t" style="left:907.5px;top:137.5px;font-size:11px;transform-origin:0 0;transform:scaleX(0.86)">mA</div>
<div class="t" style="left:907.5px;top:173px;font-size:11px;transform-origin:0 0;transform:scaleX(0.86)">mA</div>
<div class="a" style="left:151px;top:230px;width:726px;height:35px;background:#000"></div>
<svg width="1037" height="705"><polyline points="151,248.5 421.5,248.5 421.5,247.5 450,247.5 450,246.5 479.5,246.5 479.5,245.5 508.5,245.5 508.5,244.5 539,244.5 539,243.5 566,243.5 566,242.5 598.5,242.5 598.5,243.5 635,243.5 635,244.5 673,244.5 673,245.5 709,245.5 709,246.5 760.5,246.5 760.5,247.5 829.5,247.5 829.5,248.5 877,248.5" fill="none" stroke="#ffa410" stroke-width="1.15" stroke-dasharray="2.6 1.4"/><circle cx="870" cy="248" r="3.1" fill="#ffff00"/></svg>
<svg width="1037" height="705"><defs><radialGradient id="g2" gradientUnits="userSpaceOnUse" cx="922.2" cy="247.8" r="25.6813"><stop offset="0" stop-color="#ffe020"/><stop offset="0.2" stop-color="#ffcc1c"/><stop offset="0.5" stop-color="#ff9c18"/><stop offset="1" stop-color="#ff7414"/></radialGradient><radialGradient id="g2o" gradientUnits="userSpaceOnUse" cx="922.2" cy="247.8" r="25.6813"><stop offset="0" stop-color="#ffb020"/><stop offset="0.25" stop-color="#f85010"/><stop offset="1" stop-color="#f03008"/></radialGradient><linearGradient id="g2b" gradientUnits="userSpaceOnUse" x1="884" y1="0" x2="922.2" y2="0"><stop offset="0" stop-color="#d00810"/><stop offset="0.45" stop-color="#f84008"/><stop offset="0.8" stop-color="#ff9c14"/><stop offset="1" stop-color="#ffd020"/></linearGradient></defs><line x1="884" y1="247.8" x2="922.2" y2="247.8" stroke="url(#g2b)" stroke-width="3"/><line x1="922.2" y1="247.8" x2="933" y2="224.5" stroke="url(#g2o)" stroke-width="2.6"/><line x1="922.2" y1="247.8" x2="922.6" y2="233" stroke="url(#g2o)" stroke-width="2.6"/><line x1="922.2" y1="247.8" x2="904.5" y2="241" stroke="url(#g2o)" stroke-width="2.6"/><line x1="922.2" y1="247.8" x2="934.5" y2="246" stroke="url(#g2o)" stroke-width="2.6"/><line x1="922.2" y1="247.8" x2="938.5" y2="254.5" stroke="url(#g2o)" stroke-width="2.6"/><line x1="922.2" y1="247.8" x2="921" y2="259.5" stroke="url(#g2o)" stroke-width="2.6"/><line x1="922.2" y1="247.8" x2="911.5" y2="253.5" stroke="url(#g2o)" stroke-width="2.6"/><line x1="922.2" y1="247.8" x2="915" y2="240" stroke="url(#g2o)" stroke-width="2.6"/><line x1="922.2" y1="247.8" x2="930" y2="240" stroke="url(#g2o)" stroke-width="2.6"/><line x1="922.2" y1="247.8" x2="932.748" y2="225.044" stroke="url(#g2)" stroke-width="1.3"/><line x1="922.2" y1="247.8" x2="922.584" y2="233.6" stroke="url(#g2)" stroke-width="1.3"/><line x1="922.2" y1="247.8" x2="905.06" y2="241.215" stroke="url(#g2)" stroke-width="1.3"/><line x1="922.2" y1="247.8" x2="933.906" y2="246.087" stroke="url(#g2)" stroke-width="1.3"/><line x1="922.2" y1="247.8" x2="937.945" y2="254.272" stroke="url(#g2)" stroke-width="1.3"/><line x1="922.2" y1="247.8" x2="921.061" y2="258.903" stroke="url(#g2)" stroke-width="1.3"/><line x1="922.2" y1="247.8" x2="912.03" y2="253.218" stroke="url(#g2)" stroke-width="1.3"/><line x1="922.2" y1="247.8" x2="915.407" y2="240.441" stroke="url(#g2)" stroke-width="1.3"/><line x1="922.2" y1="247.8" x2="929.576" y2="240.424" stroke="url(#g2)" stroke-width="1.3"/><circle cx="922.2" cy="247.8" r="2.08" fill="#ffdc24"/><ellipse cx="922.2" cy="247.8" rx="4.2" ry="3.36" fill="#ffc81c"/><circle cx="922.2" cy="247.8" r="2.31" fill="#ffe224"/></svg>
<div class="t b" style="left:132px;top:350px;font-size:13px">I</div>
<div class="disp" style="left:143px;top:346.3px;width:51px;height:19.5px;font-size:20.8px;padding-top:1.1px;text-align:left;text-indent:2.4px;letter-spacing:-0.1px">15.48</div>
<div class="t" style="left:196px;top:351px;font-size:11px;transform-origin:0 0;transform:scaleX(0.86)">mA</div>
<div class="btn raised" style="left:136px;top:371px;width:62.5px;height:19px;background:#70dcfc;font-size:11.8px;padding-top:2.5px">Beam Off</div>
<div class="btn sunken" style="left:136px;top:391px;width:62.5px;height:19.6px;background:#fff;font-size:11.8px;padding-top:3px">Beam On</div>
<svg width="1037" height="705"><circle cx="272" cy="315.2" r="25" fill="#000"/><circle cx="274" cy="317" r="2.1" fill="#ffee00"/><circle cx="409.3" cy="315.2" r="25" fill="#000"/><circle cx="411" cy="316" r="2.1" fill="#ffee00"/><circle cx="546" cy="315.2" r="25" fill="#000"/><circle cx="551.8" cy="308.1" r="2.1" fill="#ffee00"/><circle cx="683" cy="315.2" r="25" fill="#000"/><circle cx="684" cy="314" r="2.1" fill="#ffee00"/><circle cx="823.5" cy="315.2" r="25" fill="#000"/><circle cx="824" cy="317" r="2.1" fill="#ffee00"/></svg>
<div class="disp" style="left:247.7px;top:346.3px;width:51px;height:19.6px;font-size:20px;padding-top:0.7px;color:#44dc44">13.98</div>
<div class="disp" style="left:247.7px;top:376px;width:51px;height:19.8px;font-size:20px;padding-top:0.7px;color:#44dc44">0.02</div>
<div class="disp" style="left:247.7px;top:398.2px;width:51px;height:19.6px;font-size:20px;padding-top:0.7px;color:#44dc44">-0.06</div>
<div class="t b" style="left:235px;top:350px;font-size:13px">I</div>
<div class="t b" style="left:233px;top:379.5px;font-size:14px">X</div>
<div class="t b" style="left:233px;top:401.5px;font-size:14px">Y</div>
<div class="t" style="left:303px;top:351px;font-size:11px;transform-origin:0 0;transform:scaleX(0.86)">mA</div>
<div class="t" style="left:303px;top:381px;font-size:11px;transform-origin:0 0;transform:scaleX(0.82)">mm</div>
<div class="t" style="left:303px;top:403px;font-size:11px;transform-origin:0 0;transform:scaleX(0.82)">mm</div>
<div class="disp" style="left:386px;top:346.3px;width:51px;height:19.6px;font-size:20px;padding-top:0.7px;color:#44dc44">12.62</div>
<div class="disp" style="left:386px;top:376px;width:51px;height:19.8px;font-size:20px;padding-top:0.7px;color:#44dc44">0.03</div>
<div class="disp" style="left:386px;top:398.2px;width:51px;height:19.6px;font-size:20px;padding-top:0.7px;color:#44dc44">0.02</div>
<div class="t b" style="left:373px;top:350px;font-size:13px">I</div>
<div class="t b" style="left:371px;top:379.5px;font-size:14px">X</div>
<div class="t b" style="left:371px;top:401.5px;font-size:14px">Y</div>
<div class="t" style="left:439px;top:351px;font-size:11px;transform-origin:0 0;transform:scaleX(0.86)">mA</div>
<div class="t" style="left:439px;top:381px;font-size:11px;transform-origin:0 0;transform:scaleX(0.82)">mm</div>
<div class="t" style="left:439px;top:403px;font-size:11px;transform-origin:0 0;transform:scaleX(0.82)">mm</div>
<div class="disp" style="left:522.2px;top:346.3px;width:51px;height:19.6px;font-size:20px;padding-top:0.7px;color:#44dc44">9.13</div>
<div class="disp" style="left:522.2px;top:376px;width:51px;height:19.8px;font-size:20px;padding-top:0.7px;color:#44dc44">0.71</div>
<div class="disp" style="left:522.2px;top:398.2px;width:51px;height:19.6px;font-size:20px;padding-top:0.7px;color:#ff8010">1.33</div>
<div class="t b" style="left:508px;top:350px;font-size:13px">I</div>
<div class="t b" style="left:506px;top:379.5px;font-size:14px">X</div>
<div class="t b" style="left:506px;top:401.5px;font-size:14px">Y</div>
<div class="t" style="left:577px;top:351px;font-size:11px;transform-origin:0 0;transform:scaleX(0.86)">mA</div>
<div class="t" style="left:577px;top:381px;font-size:11px;transform-origin:0 0;transform:scaleX(0.82)">mm</div>
<div class="t" style="left:577px;top:403px;font-size:11px;transform-origin:0 0;transform:scaleX(0.82)">mm</div>
<div class="disp" style="left:659.3px;top:346.3px;width:51px;height:19.6px;font-size:20px;padding-top:0.7px;color:#44dc44">7.98</div>
<div class="disp" style="left:659.3px;top:376px;width:51px;height:19.8px;font-size:20px;padding-top:0.7px;color:#44dc44">-0.01</div>
<div class="disp" style="left:659.3px;top:398.2px;width:51px;height:19.6px;font-size:20px;padding-top:0.7px;color:#44dc44">0.43</div>
<div class="t b" style="left:647px;top:350px;font-size:13px">I</div>
<div class="t b" style="left:644px;top:379.5px;font-size:14px">X</div>
<div class="t b" style="left:644px;top:401.5px;font-size:14px">Y</div>
<div class="t" style="left:713px;top:351px;font-size:11px;transform-origin:0 0;transform:scaleX(0.86)">mA</div>
<div class="t" style="left:713px;top:381px;font-size:11px;transform-origin:0 0;transform:scaleX(0.82)">mm</div>
<div class="t" style="left:713px;top:403px;font-size:11px;transform-origin:0 0;transform:scaleX(0.82)">mm</div>
<div class="disp" style="left:798.5px;top:346.3px;width:51px;height:19.6px;font-size:20px;padding-top:0.7px;color:#44dc44">7.16</div>
<div class="disp" style="left:798.5px;top:376px;width:51px;height:19.8px;font-size:20px;padding-top:0.7px;color:#44dc44">-0.00</div>
<div class="disp" style="left:798.5px;top:398.2px;width:51px;height:19.6px;font-size:20px;padding-top:0.7px;color:#44dc44">-0.07</div>
<div class="t b" style="left:786px;top:350px;font-size:13px">I</div>
<div class="t b" style="left:783.7px;top:379.5px;font-size:14px">X</div>
<div class="t b" style="left:783.7px;top:401.5px;font-size:14px">Y</div>
<div class="t" style="left:853.3px;top:351px;font-size:11px;transform-origin:0 0;transform:scaleX(0.86)">mA</div>
<div class="t" style="left:853.3px;top:381px;font-size:11px;transform-origin:0 0;transform:scaleX(0.82)">mm</div>
<div class="t" style="left:853.3px;top:403px;font-size:11px;transform-origin:0 0;transform:scaleX(0.82)">mm</div>
<div class="t b" style="left:877.8px;top:296.2px;font-size:23.5px;line-height:28.5px;color:#ff8010;white-space:normal;width:120px">Beam on Target!</div>
<div class="a" style="left:35px;top:430px;width:952px;height:209px;background:#004080;border:1px solid #c2ece4;box-shadow:inset 1px 1px 0 #00387c, inset -1px -1px 0 #00387c"></div>
<div class="a" style="left:43px;top:438px;width:935px;height:192px;border:1px solid #002850"></div>
<div class="a" style="left:44px;top:439px;width:935px;height:192px;border:1px solid #0070e0"></div>
<div class="t" style="left:50px;top:434px;font-size:11.9px;color:#fbff08;background:#004080;padding:0 1px 0 1px">Beam Position Control</div>
<svg width="1037" height="705"><defs><linearGradient id="trk" x1="0" x2="0" y1="0" y2="1"><stop offset="0" stop-color="#c0c4c4"/><stop offset="0.3" stop-color="#e8e8e8"/><stop offset="0.7" stop-color="#d8d8d8"/><stop offset="1" stop-color="#a0a4a8"/></linearGradient><linearGradient id="fgr" x1="0" x2="0" y1="0" y2="1"><stop offset="0" stop-color="#84d45c"/><stop offset="0.18" stop-color="#b0f884"/><stop offset="0.45" stop-color="#80e850"/><stop offset="0.8" stop-color="#6cd83c"/><stop offset="1" stop-color="#50b028"/></linearGradient><linearGradient id="for" x1="0" x2="0" y1="0" y2="1"><stop offset="0" stop-color="#e48c3c"/><stop offset="0.18" stop-color="#ffb870"/><stop offset="0.45" stop-color="#ff9430"/><stop offset="0.8" stop-color="#ff8818"/><stop offset="1" stop-color="#d07010"/></linearGradient><linearGradient id="thm" x1="0" x2="1" y1="0" y2="0"><stop offset="0" stop-color="#fcfcfc"/><stop offset="0.35" stop-color="#e4e4e4"/><stop offset="0.7" stop-color="#c8c8c8"/><stop offset="1" stop-color="#8c8c8c"/></linearGradient></defs><rect x="133" y="494.9" width="130.3" height="6.3" fill="url(#trk)"/><rect x="133" y="494.9" width="48.7" height="6.3" fill="url(#fgr)"/><path d="M175.9 489 h11.6 v15.5 l-5.8 5.6 l-5.8 -5.6 Z" fill="url(#thm)" stroke="#9c9ca0" stroke-width="0.5"/><line x1="134.5" x2="134.5" y1="513.3" y2="519.5" stroke="#fbff08" stroke-width="1"/><line x1="198.5" x2="198.5" y1="513.3" y2="519.5" stroke="#fbff08" stroke-width="1"/><line x1="262.5" x2="262.5" y1="513.3" y2="519.5" stroke="#fbff08" stroke-width="1"/><rect x="133" y="558.8" width="130.3" height="6.3" fill="url(#trk)"/><rect x="133" y="558.8" width="87.8" height="6.3" fill="url(#for)"/><path d="M215 552.9 h11.6 v15.5 l-5.8 5.6 l-5.8 -5.6 Z" fill="url(#thm)" stroke="#9c9ca0" stroke-width="0.5"/><line x1="134.5" x2="134.5" y1="577.2" y2="583.4" stroke="#fbff08" stroke-width="1"/><line x1="198.5" x2="198.5" y1="577.2" y2="583.4" stroke="#fbff08" stroke-width="1"/><line x1="262.5" x2="262.5" y1="577.2" y2="583.4" stroke="#fbff08" stroke-width="1"/><rect x="306" y="494.9" width="130.3" height="6.3" fill="url(#trk)"/><rect x="306" y="494.9" width="100" height="6.3" fill="url(#fgr)"/><path d="M400.2 489 h11.6 v15.5 l-5.8 5.6 l-5.8 -5.6 Z" fill="url(#thm)" stroke="#9c9ca0" stroke-width="0.5"/><line x1="307.5" x2="307.5" y1="513.3" y2="519.5" stroke="#fbff08" stroke-width="1"/><line x1="371.5" x2="371.5" y1="513.3" y2="519.5" stroke="#fbff08" stroke-width="1"/><line x1="435.5" x2="435.5" y1="513.3" y2="519.5" stroke="#fbff08" stroke-width="1"/><rect x="306" y="558.8" width="130.3" height="6.3" fill="url(#trk)"/><rect x="306" y="558.8" width="47.6" height="6.3" fill="url(#for)"/><path d="M347.8 552.9 h11.6 v15.5 l-5.8 5.6 l-5.8 -5.6 Z" fill="url(#thm)" stroke="#9c9ca0" stroke-width="0.5"/><line x1="307.5" x2="307.5" y1="577.2" y2="583.4" stroke="#fbff08" stroke-width="1"/><line x1="371.5" x2="371.5" y1="577.2" y2="583.4" stroke="#fbff08" stroke-width="1"/><line x1="435.5" x2="435.5" y1="577.2" y2="583.4" stroke="#fbff08" stroke-width="1"/><rect x="478.7" y="494.9" width="130.3" height="6.3" fill="url(#trk)"/><rect x="478.7" y="494.9" width="44.2" height="6.3" fill="url(#fgr)"/><path d="M517.1 489 h11.6 v15.5 l-5.8 5.6 l-5.8 -5.6 Z" fill="url(#thm)" stroke="#9c9ca0" stroke-width="0.5"/><line x1="480.5" x2="480.5" y1="513.3" y2="519.5" stroke="#fbff08" stroke-width="1"/><line x1="544.5" x2="544.5" y1="513.3" y2="519.5" stroke="#fbff08" stroke-width="1"/><line x1="607.5" x2="607.5" y1="513.3" y2="519.5" stroke="#fbff08" stroke-width="1"/><rect x="478.7" y="558.8" width="130.3" height="6.3" fill="url(#trk)"/><rect x="478.7" y="558.8" width="60.3" height="6.3" fill="url(#for)"/><path d="M533.2 552.9 h11.6 v15.5 l-5.8 5.6 l-5.8 -5.6 Z" fill="url(#thm)" stroke="#9c9ca0" stroke-width="0.5"/><line x1="480.5" x2="480.5" y1="577.2" y2="583.4" stroke="#fbff08" stroke-width="1"/><line x1="544.5" x2="544.5" y1="577.2" y2="583.4" stroke="#fbff08" stroke-width="1"/><line x1="607.5" x2="607.5" y1="577.2" y2="583.4" stroke="#fbff08" stroke-width="1"/><rect x="651.9" y="494.9" width="130.3" height="6.3" fill="url(#trk)"/><rect x="651.9" y="494.9" width="85.7" height="6.3" fill="url(#fgr)"/><path d="M731.8 489 h11.6 v15.5 l-5.8 5.6 l-5.8 -5.6 Z" fill="url(#thm)" stroke="#9c9ca0" stroke-width="0.5"/><line x1="653.5" x2="653.5" y1="513.3" y2="519.5" stroke="#fbff08" stroke-width="1"/><line x1="717.5" x2="717.5" y1="513.3" y2="519.5" stroke="#fbff08" stroke-width="1"/><line x1="781.5" x2="781.5" y1="513.3" y2="519.5" stroke="#fbff08" stroke-width="1"/><rect x="651.9" y="558.8" width="130.3" height="6.3" fill="url(#trk)"/><rect x="651.9" y="558.8" width="66.7" height="6.3" fill="url(#for)"/><path d="M712.8 552.9 h11.6 v15.5 l-5.8 5.6 l-5.8 -5.6 Z" fill="url(#thm)" stroke="#9c9ca0" stroke-width="0.5"/><line x1="653.5" x2="653.5" y1="577.2" y2="583.4" stroke="#fbff08" stroke-width="1"/><line x1="717.5" x2="717.5" y1="577.2" y2="583.4" stroke="#fbff08" stroke-width="1"/><line x1="781.5" x2="781.5" y1="577.2" y2="583.4" stroke="#fbff08" stroke-width="1"/><rect x="824.7" y="494.9" width="130.3" height="6.3" fill="url(#trk)"/><rect x="824.7" y="494.9" width="41.9" height="6.3" fill="url(#fgr)"/><path d="M860.8 489 h11.6 v15.5 l-5.8 5.6 l-5.8 -5.6 Z" fill="url(#thm)" stroke="#9c9ca0" stroke-width="0.5"/><line x1="826.5" x2="826.5" y1="513.3" y2="519.5" stroke="#fbff08" stroke-width="1"/><line x1="890.5" x2="890.5" y1="513.3" y2="519.5" stroke="#fbff08" stroke-width="1"/><line x1="953.5" x2="953.5" y1="513.3" y2="519.5" stroke="#fbff08" stroke-width="1"/><rect x="824.7" y="558.8" width="130.3" height="6.3" fill="url(#trk)"/><rect x="824.7" y="558.8" width="94.3" height="6.3" fill="url(#for)"/><path d="M913.2 552.9 h11.6 v15.5 l-5.8 5.6 l-5.8 -5.6 Z" fill="url(#thm)" stroke="#9c9ca0" stroke-width="0.5"/><line x1="826.5" x2="826.5" y1="577.2" y2="583.4" stroke="#fbff08" stroke-width="1"/><line x1="890.5" x2="890.5" y1="577.2" y2="583.4" stroke="#fbff08" stroke-width="1"/><line x1="953.5" x2="953.5" y1="577.2" y2="583.4" stroke="#fbff08" stroke-width="1"/><path d="M63.3 482 l10 -3.1 v2.1 h8.2 v-2.1 l10 3.1 l-10 3.1 v-2.1 h-8.2 v2.1 Z" fill="#fbff08"/><path d="M77.2 548 l3.1 10 h-2.1 v13 h2.1 l-3.1 10 l-3.1 -10 h2.1 v-13 h-2.1 Z" fill="#fbff08"/></svg>
<div class="t" style="left:132.5px;top:452.7px;width:130px;text-align:center;font-size:20px;color:#fbff08">H1/V1</div>
<div class="t" style="left:119.4px;top:524.1px;width:30px;text-align:center;font-size:11px;color:#fbff08">-5</div>
<div class="t" style="left:183.3px;top:524.1px;width:30px;text-align:center;font-size:11px;color:#fbff08">0</div>
<div class="t" style="left:247.2px;top:524.1px;width:30px;text-align:center;font-size:11px;color:#fbff08">5</div>
<div class="t" style="left:119.4px;top:588px;width:30px;text-align:center;font-size:11px;color:#fbff08">-5</div>
<div class="t" style="left:183.3px;top:588px;width:30px;text-align:center;font-size:11px;color:#fbff08">0</div>
<div class="t" style="left:247.2px;top:588px;width:30px;text-align:center;font-size:11px;color:#fbff08">5</div>
<div class="t" style="left:305.5px;top:452.7px;width:130px;text-align:center;font-size:20px;color:#fbff08">H2/V2</div>
<div class="t" style="left:292.4px;top:524.1px;width:30px;text-align:center;font-size:11px;color:#fbff08">-5</div>
<div class="t" style="left:356.3px;top:524.1px;width:30px;text-align:center;font-size:11px;color:#fbff08">0</div>
<div class="t" style="left:420.2px;top:524.1px;width:30px;text-align:center;font-size:11px;color:#fbff08">5</div>
<div class="t" style="left:292.4px;top:588px;width:30px;text-align:center;font-size:11px;color:#fbff08">-5</div>
<div class="t" style="left:356.3px;top:588px;width:30px;text-align:center;font-size:11px;color:#fbff08">0</div>
<div class="t" style="left:420.2px;top:588px;width:30px;text-align:center;font-size:11px;color:#fbff08">5</div>
<div class="t" style="left:478.2px;top:452.7px;width:130px;text-align:center;font-size:20px;color:#fbff08">H3/V3</div>
<div class="t" style="left:465.1px;top:524.1px;width:30px;text-align:center;font-size:11px;color:#fbff08">-5</div>
<div class="t" style="left:529px;top:524.1px;width:30px;text-align:center;font-size:11px;color:#fbff08">0</div>
<div class="t" style="left:592.9px;top:524.1px;width:30px;text-align:center;font-size:11px;color:#fbff08">5</div>
<div class="t" style="left:465.1px;top:588px;width:30px;text-align:center;font-size:11px;color:#fbff08">-5</div>
<div class="t" style="left:529px;top:588px;width:30px;text-align:center;font-size:11px;color:#fbff08">0</div>
<div class="t" style="left:592.9px;top:588px;width:30px;text-align:center;font-size:11px;color:#fbff08">5</div>
<div class="t" style="left:651.4px;top:452.7px;width:130px;text-align:center;font-size:20px;color:#fbff08">H4/V4</div>
<div class="t" style="left:638.3px;top:524.1px;width:30px;text-align:center;font-size:11px;color:#fbff08">-5</div>
<div class="t" style="left:702.2px;top:524.1px;width:30px;text-align:center;font-size:11px;color:#fbff08">0</div>
<div class="t" style="left:766.1px;top:524.1px;width:30px;text-align:center;font-size:11px;color:#fbff08">5</div>
<div class="t" style="left:638.3px;top:588px;width:30px;text-align:center;font-size:11px;color:#fbff08">-5</div>
<div class="t" style="left:702.2px;top:588px;width:30px;text-align:center;font-size:11px;color:#fbff08">0</div>
<div class="t" style="left:766.1px;top:588px;width:30px;text-align:center;font-size:11px;color:#fbff08">5</div>
<div class="t" style="left:824.2px;top:452.7px;width:130px;text-align:center;font-size:20px;color:#fbff08">H5/V5</div>
<div class="t" style="left:811.1px;top:524.1px;width:30px;text-align:center;font-size:11px;color:#fbff08">-5</div>
<div class="t" style="left:875px;top:524.1px;width:30px;text-align:center;font-size:11px;color:#fbff08">0</div>
<div class="t" style="left:938.9px;top:524.1px;width:30px;text-align:center;font-size:11px;color:#fbff08">5</div>
<div class="t" style="left:811.1px;top:588px;width:30px;text-align:center;font-size:11px;color:#fbff08">-5</div>
<div class="t" style="left:875px;top:588px;width:30px;text-align:center;font-size:11px;color:#fbff08">0</div>
<div class="t" style="left:938.9px;top:588px;width:30px;text-align:center;font-size:11px;color:#fbff08">5</div>
</body></html>
